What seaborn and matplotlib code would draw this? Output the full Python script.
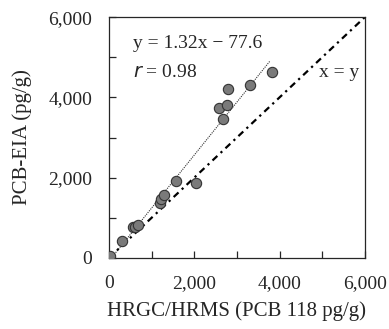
import numpy as np
import pandas as pd
import seaborn as sns
import matplotlib.pyplot as plt

# HRGC/HRMS vs PCB-EIA values
hrms = [30, 310, 560, 600, 680, 1190, 1230, 1290, 1570, 2040, 2580, 2680, 2760, 2780, 3310, 3820]
eia = [50, 430, 780, 760, 830, 1370, 1480, 1570, 1910, 1870, 3730, 3460, 3810, 4220, 4300, 4630]

slope = 1.32
intercept = -77.6
fit_x = [59, 3780]
diag = [0, 6000]

sns.set_style("ticks")
plt.rcParams["font.family"] = ["Liberation Serif", "DejaVu Serif"]

df = pd.DataFrame({"x": hrms, "y": eia})

fig = plt.figure(figsize=(3.89, 3.29), dpi=100)
ax = fig.add_axes([0.280, 0.216, 0.658, 0.732])

fit_y = [slope * v + intercept for v in fit_x]
sns.lineplot(x=fit_x, y=fit_y, ax=ax, color="#333333", lw=0.8, ls=(0, (1, 1)))
sns.lineplot(x=diag, y=diag, ax=ax, color="black", lw=1.6, ls=(0, (3, 2, 1, 2)))
sns.scatterplot(data=df, x="x", y="y", ax=ax, s=55, color="#7a7a7a",
                edgecolor="#333333", linewidth=0.8, zorder=3)

ax.text(560, 5350, "y = 1.32x \u2212 77.6", fontsize=14, va="center")
ax.text(560, 4630, "$\\it{r}$ = 0.98", fontsize=14, va="center")
ax.text(4920, 4630, "x = y", fontsize=14, va="center")

ax.set_xlim(0, 6000)
ax.set_ylim(0, 6000)
ax.set_xticks(range(0, 6001, 1000))
ax.set_yticks(range(0, 6001, 1000))
ax.set_xticklabels(["0", "", "2,000", "", "4,000", "", "6,000"])
ax.set_yticklabels(["0", "", "2,000", "", "4,000", "", "6,000"])
ax.tick_params(direction="in", length=5, width=0.9, labelsize=14, pad=12)
for s in ax.spines.values():
    s.set_visible(True)
    s.set_linewidth(0.9)
ax.set_xlabel("HRGC/HRMS (PCB 118 pg/g)", fontsize=15, labelpad=7)
ax.set_ylabel("PCB-EIA (pg/g)", fontsize=15, labelpad=12)

plt.savefig("out.png", dpi=100)
